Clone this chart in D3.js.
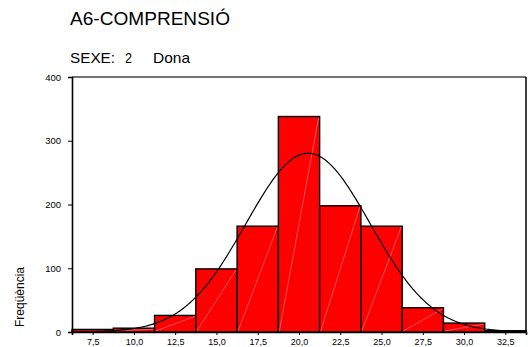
<!DOCTYPE html>
<html><head><meta charset="utf-8">
<script src="https://cdn.jsdelivr.net/npm/d3@7"></script>
<style>body{margin:0;background:#fff;} svg{display:block;font-family:"Liberation Sans",Arial,sans-serif;}</style>
</head><body>
<svg id="c" width="529" height="347"></svg>
<script>
const binCenters = [7.5, 10.0, 12.5, 15.0, 17.5, 20.0, 22.5, 25.0, 27.5, 30.0, 32.5];
const counts = [4, 6, 26, 99, 166, 338, 198, 166, 38, 14, 2];
const xTickValues = [7.5, 10.0, 12.5, 15.0, 17.5, 20.0, 22.5, 25.0, 27.5, 30.0, 32.5];
const yTickValues = [0, 100, 200, 300, 400];
const binWidth = 2.5;
const fitMean = 20.55;
const fitSd = 3.76;
const title = "A6-COMPRENSIÓ";
const subtitleParts = ["SEXE:", "2", "Dona"];
const yLabel = "Freqüència";

const svg = d3.select("#c");
const L = 72, R = 526, T = 77, B = 332;
const x = d3.scaleLinear().domain([6.25, 33.75]).range([L, R]);
const y = d3.scaleLinear().domain([0, 400]).range([B, T]);
const N = d3.sum(counts);

svg.append("text").attr("x", 70).attr("y", 25).attr("font-size", 18)
  .attr("textLength", 160).attr("lengthAdjust", "spacingAndGlyphs").attr("fill", "#000").text(title);
const subX = [70, 125, 153], subW = [45, 7, 37];
subtitleParts.forEach((t, i) => {
  svg.append("text").attr("x", subX[i]).attr("y", 63).attr("font-size", 15)
    .attr("textLength", subW[i]).attr("lengthAdjust", "spacingAndGlyphs").attr("fill", "#000").text(t);
});

// frame
svg.append("line").attr("x1", L).attr("x2", R).attr("y1", T).attr("y2", T).attr("stroke", "#444").attr("stroke-width", 1.5);
svg.append("line").attr("x1", R).attr("x2", R).attr("y1", T).attr("y2", B).attr("stroke", "#000").attr("stroke-width", 1.5);

// bars
const data = binCenters.map((c, i) => ({c, v: counts[i]}));
const g = svg.append("g");
g.selectAll("rect").data(data).join("rect")
  .attr("x", d => x(d.c - binWidth/2))
  .attr("width", d => x(d.c + binWidth/2) - x(d.c - binWidth/2))
  .attr("y", d => y(d.v))
  .attr("height", d => y(0) - y(d.v))
  .attr("fill", "#ff0000")
  .attr("stroke", "#000").attr("stroke-width", 1.4);
g.selectAll("line.diag").data(data.filter(d => d.v > 5)).join("line").attr("class","diag")
  .attr("x1", d => x(d.c + binWidth/2) - 1).attr("y1", d => y(d.v) + 1)
  .attr("x2", d => x(d.c - binWidth/2) + 1).attr("y2", d => y(0) - 1)
  .attr("stroke", "#ffb0b0").attr("stroke-width", 0.6).attr("opacity", 0.8);

// normal curve
const pts = d3.range(6.5, 33.5, 0.1).map(v => [v, N * binWidth / (fitSd * Math.sqrt(2*Math.PI)) * Math.exp(-0.5 * ((v - fitMean)/fitSd)**2)]);
svg.append("path").datum(pts)
  .attr("d", d3.line().x(d => x(d[0])).y(d => y(d[1])))
  .attr("fill", "none").attr("stroke", "#000").attr("stroke-width", 1.2);

// axes
const fmt = v => v.toFixed(1).replace(".", ",");
const xa = svg.append("g").attr("transform", `translate(0,${B})`)
  .call(d3.axisBottom(x).tickValues(xTickValues).tickFormat(fmt).tickSize(3).tickPadding(4));
xa.select(".domain").attr("stroke", "#000").attr("stroke-width", 1.6);
xa.selectAll("text").attr("font-size", 9).attr("font-family", "Liberation Sans, Arial, sans-serif").attr("fill", "#000");
const ya = svg.append("g").attr("transform", `translate(${L},0)`)
  .call(d3.axisLeft(y).tickValues(yTickValues).tickFormat(d3.format("d")).tickSize(4).tickPadding(7));
ya.select(".domain").attr("stroke", "#000").attr("stroke-width", 1.6);
ya.selectAll("text").attr("font-size", 9.5).attr("font-family", "Liberation Sans, Arial, sans-serif").attr("fill", "#000");

svg.append("text").attr("transform", "translate(24,297) rotate(-90)").attr("text-anchor", "middle")
  .attr("font-size", 12).attr("fill", "#000").text(yLabel);
</script>
</body></html>
